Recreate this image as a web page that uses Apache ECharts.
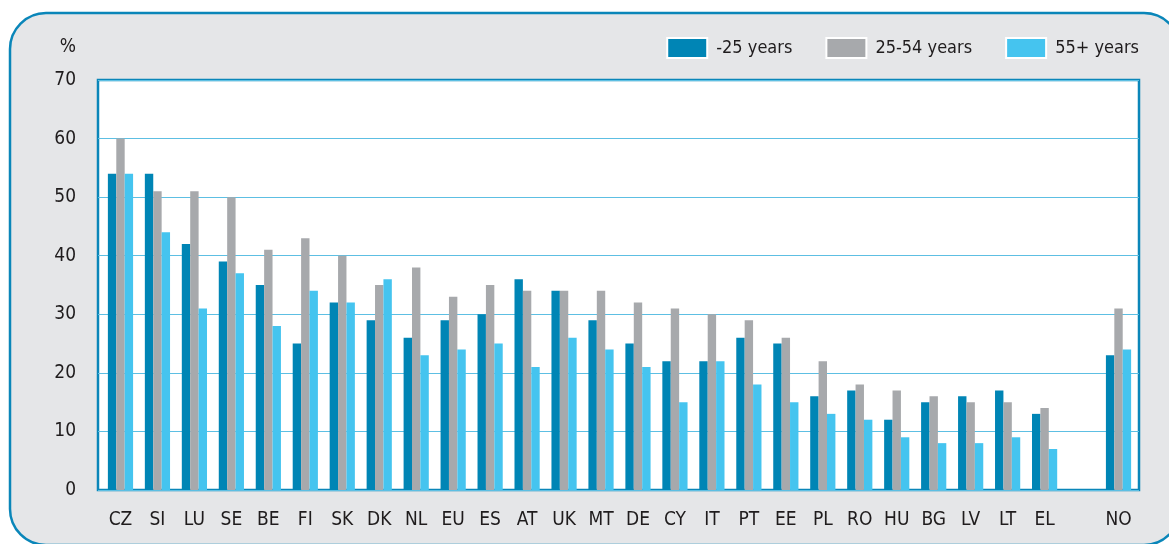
<!DOCTYPE html>
<html>
<head>
<meta charset="utf-8">
<script src="https://cdn.jsdelivr.net/npm/echarts@6/dist/echarts.min.js"></script>
<style>
  html, body { margin: 0; padding: 0; background: #ffffff; }
  #chart { width: 1169px; height: 544px; }
</style>
</head>
<body>
<div id="chart"></div>
<script>
// Country codes along the x axis; the blank slot separates NO from the EU group
const categories = ['CZ','SI','LU','SE','BE','FI','SK','DK','NL','EU','ES','AT','UK','MT','DE','CY','IT','PT','EE','PL','RO','HU','BG','LV','LT','EL','','NO'];

// Participation rates (%) by age group
const under25 = [54,54,42,39,35,25,32,29,26,29,30,36,34,29,25,22,22,26,25,16,17,12,15,16,17,13,null,23];
const age25to54 = [60,51,51,50,41,43,40,35,38,33,35,34,34,34,32,31,30,29,26,22,18,17,16,15,15,14,null,31];
const over55 = [54,44,31,37,28,34,32,36,23,24,25,21,26,24,21,15,22,18,15,13,12,9,8,8,9,7,null,24];

const seriesNames = ['-25 years', '25-54 years', '55+ years'];
const yTicks = { min: 0, max: 70, interval: 10 };

const FONT = '"Liberation Sans Narrow", "DejaVu Sans Condensed", "Roboto", sans-serif';
const TEXT = '#1f1c1d';
const FRAME = '#0a86b9';

const chart = echarts.init(document.getElementById('chart'), null, { renderer: 'canvas' });

function barSeries(name, data, color) {
  return {
    name: name,
    type: 'bar',
    xAxisIndex: 1,
    yAxisIndex: 1,
    data: data,
    barWidth: 8.4,
    barGap: '0%',
    itemStyle: { color: color },
    emphasis: { disabled: true }
  };
}

chart.setOption({
  animation: false,
  backgroundColor: '#ffffff',
  graphic: [{
    type: 'rect',
    z: -10,
    silent: true,
    shape: { x: 10, y: 13, width: 1170, height: 532, r: 36 },
    style: { fill: '#e5e6e8', stroke: FRAME, lineWidth: 2.5 }
  }],
  legend: {
    top: 32,
    right: 25,
    itemWidth: 40,
    itemHeight: 20,
    itemGap: 33,
    icon: 'rect',
    itemStyle: { borderColor: '#ffffff', borderWidth: 2 },
    textStyle: { fontFamily: FONT, fontSize: 18, color: TEXT, padding: [0, 0, 0, 4] },
    data: seriesNames
  },
  grid: [
    // framed plot area carrying the value scale and grid lines
    {
      left: 98, right: 30, top: 80, bottom: 54,
      show: true,
      backgroundColor: '#ffffff',
      borderColor: FRAME,
      borderWidth: 2.5
    },
    // category band for the bars, slightly inset from the frame
    { left: 102, right: 32, top: 80, bottom: 54 }
  ],
  xAxis: [
    {
      gridIndex: 0,
      type: 'category',
      data: categories,
      show: false
    },
    {
      gridIndex: 1,
      type: 'category',
      data: categories,
      axisLine: { show: false },
      axisTick: { show: false },
      axisLabel: { interval: 0, margin: 21, fontFamily: FONT, fontSize: 19, color: TEXT }
    }
  ],
  yAxis: [
    {
      gridIndex: 0,
      type: 'value',
      min: yTicks.min,
      max: yTicks.max,
      interval: yTicks.interval,
      name: '%',
      nameLocation: 'end',
      nameGap: 23,
      nameTextStyle: { fontFamily: FONT, fontSize: 19, color: TEXT, align: 'right', padding: [0, 22, 0, 0] },
      axisLine: { show: false },
      axisTick: { show: false },
      axisLabel: { margin: 22, fontFamily: FONT, fontSize: 19, color: TEXT },
      splitLine: { lineStyle: { color: '#5dbfe3', width: 1.2 } }
    },
    {
      gridIndex: 1,
      type: 'value',
      min: yTicks.min,
      max: yTicks.max,
      interval: yTicks.interval,
      show: false
    }
  ],
  series: [
    barSeries(seriesNames[0], under25, '#0085b5'),
    barSeries(seriesNames[1], age25to54, '#a7a9ac'),
    barSeries(seriesNames[2], over55, '#45c4ef')
  ]
});
</script>
</body>
</html>
